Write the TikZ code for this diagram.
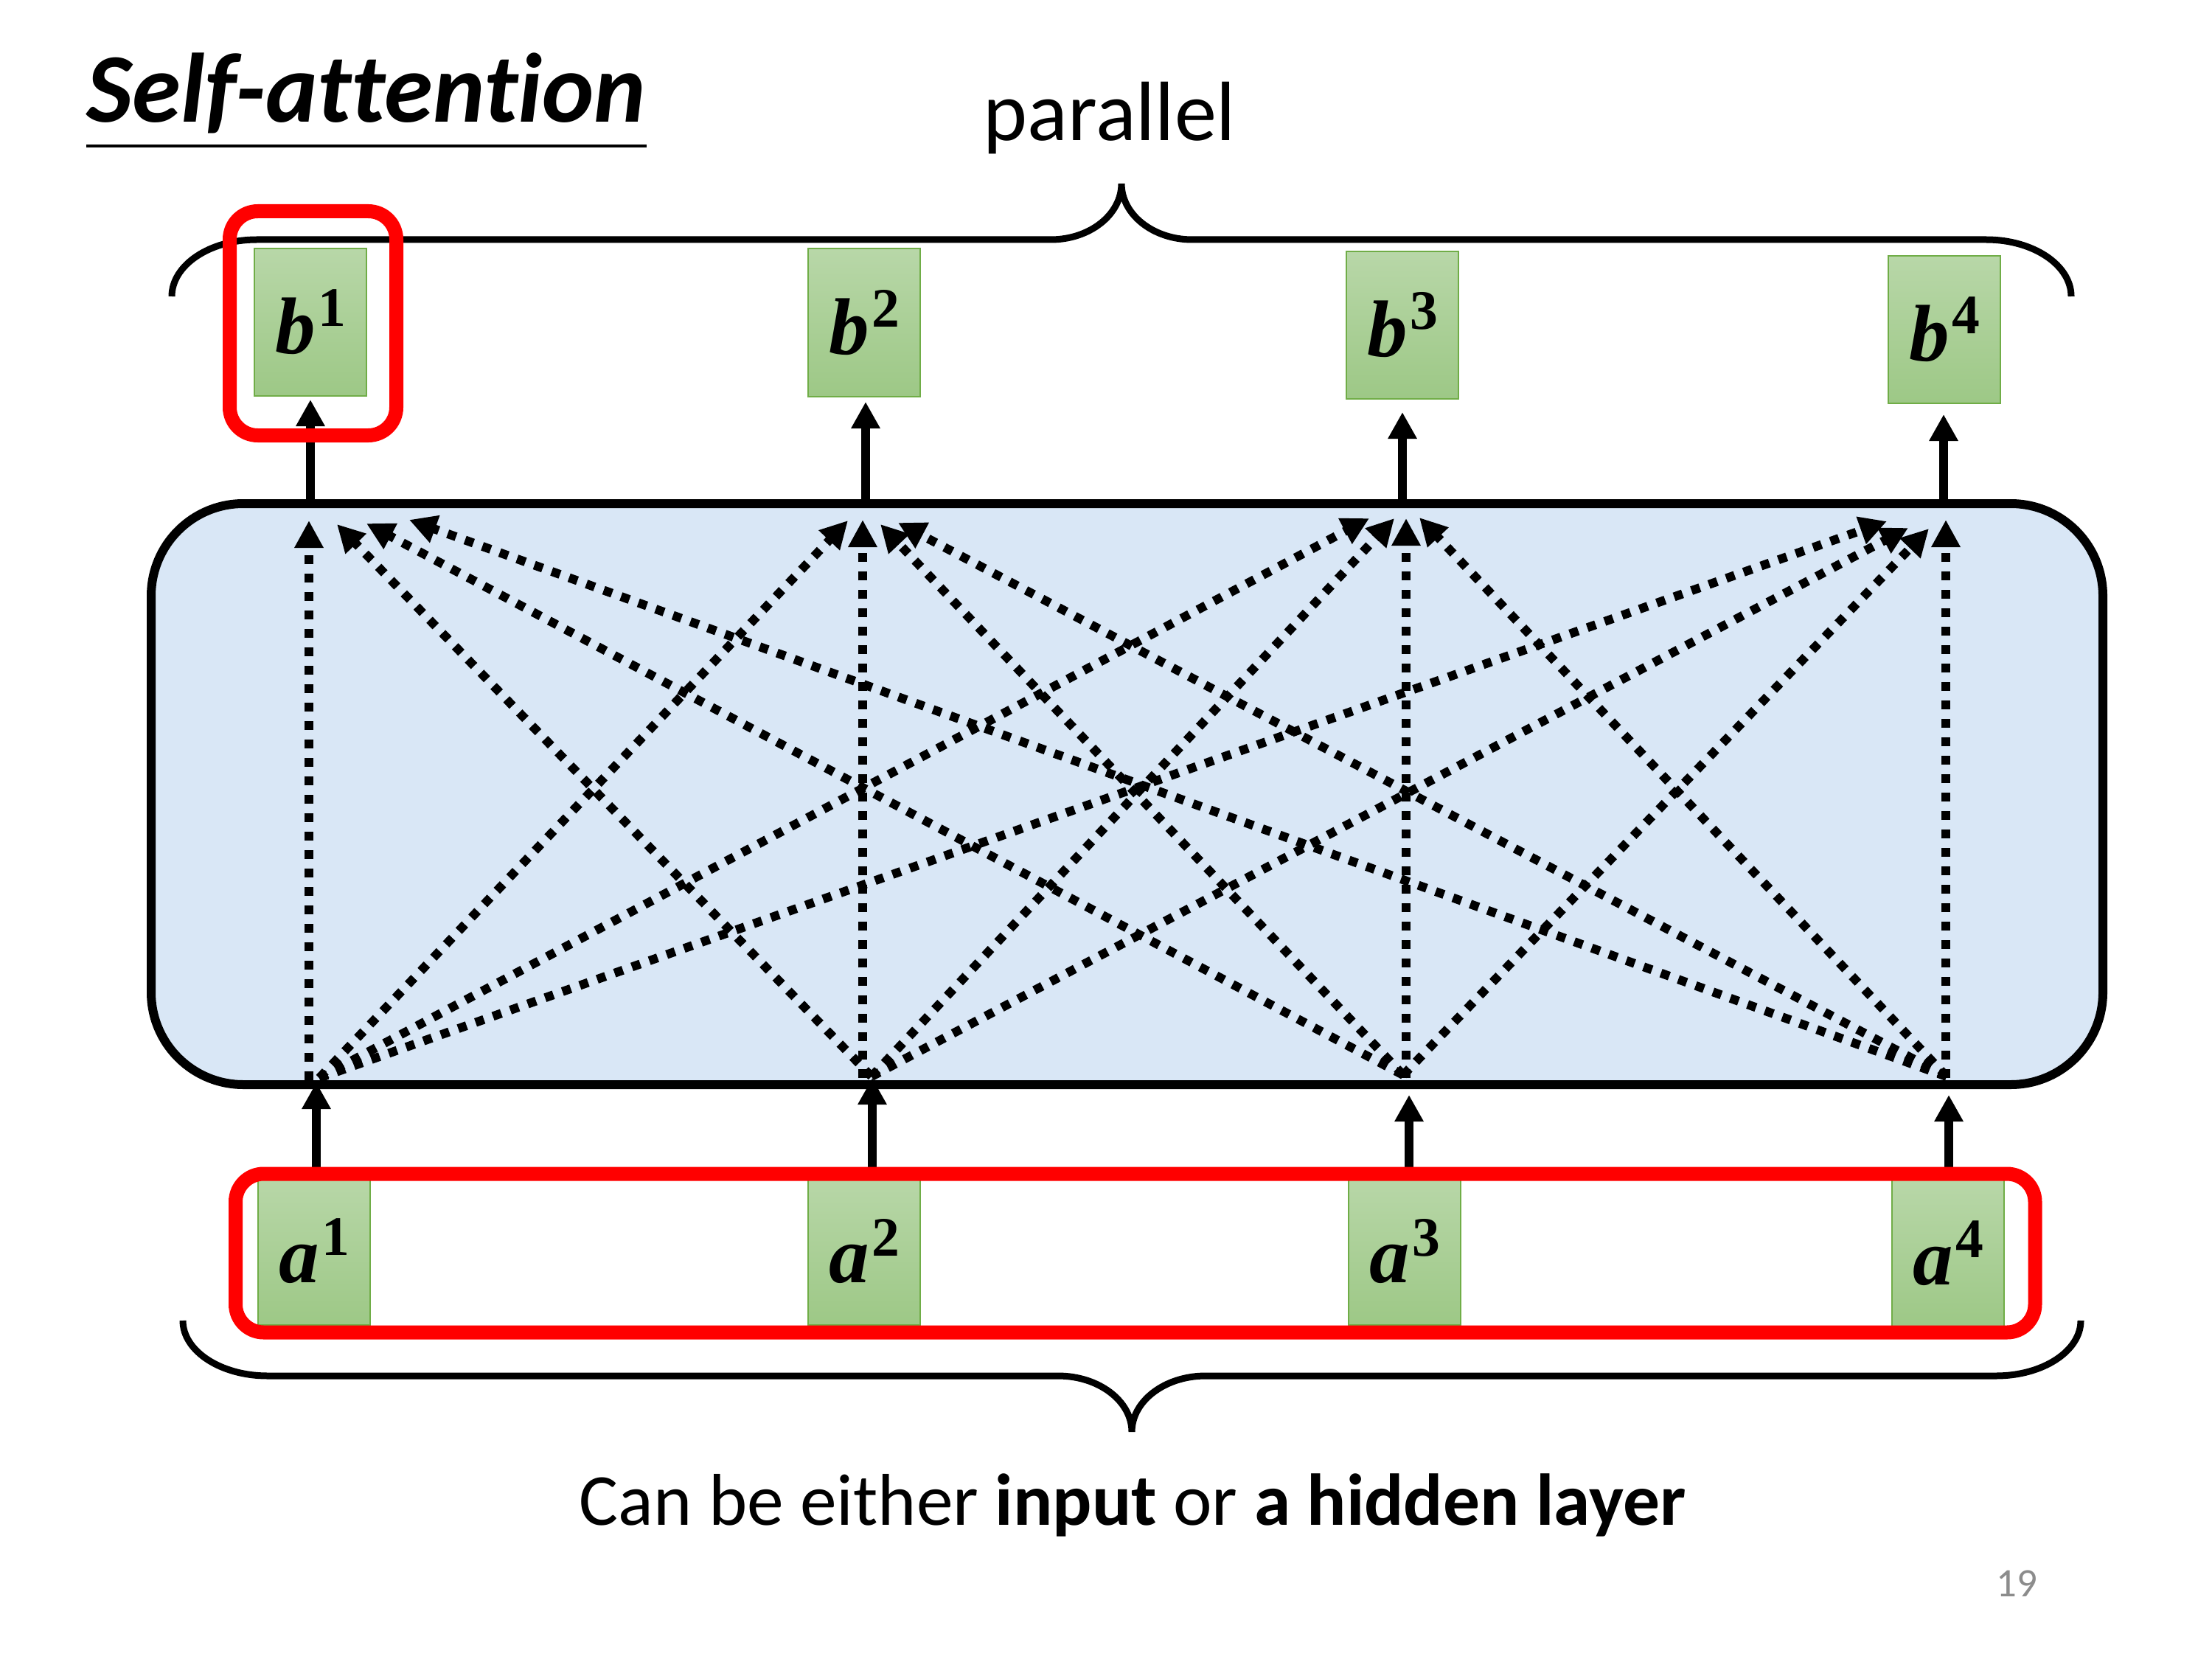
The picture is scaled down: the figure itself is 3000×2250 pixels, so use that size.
\documentclass[tikz,border=0pt]{standalone}
\usepackage{fontspec}
\setmainfont[Ligatures=NoCommon]{Carlito}
\newfontfamily\varfnt{Liberation Serif}
\newcommand\mysym[2]{{\varfnt\fontsize{31}{31}\selectfont\bfseries\itshape #1}\kern1pt\raisebox{10.5pt}{\varfnt\fontsize{21.5}{21.5}\selectfont\bfseries #2}}
\usetikzlibrary{arrows.meta}
\definecolor{attblue}{RGB}{217,231,246}
\definecolor{gtop}{RGB}{184,215,168}
\definecolor{gbot}{RGB}{157,200,134}
\definecolor{gborder}{RGB}{112,173,71}
\definecolor{pagegray}{RGB}{140,140,140}
\tikzset{
  gbox/.style={draw=gborder, line width=0.2mm, top color=gtop, bottom color=gbot,
    minimum width=15.2mm, minimum height=20mm, inner sep=0pt},
  redbox/.style={draw=red, line width=1.9mm, rounded corners=3.8mm, inner sep=0pt},
  attbox/.style={draw=black, fill=attblue, line width=1.2mm, rounded corners=12.5mm,
    minimum width=264.7mm, minimum height=78.8mm, inner sep=0pt},
  bracestyle/.style={line width=0.9mm, line cap=butt},
  dotarrow/.style={line width=1.2mm, dash pattern=on 1.2mm off 1.3mm,
    -{Triangle[length=3.7mm,width=3.7mm]}},
  solidarrow/.style={line width=1.2mm, -{Triangle[length=3.6mm,width=3.7mm]}},
  txt/.style={inner sep=0pt}
}
\begin{document}
\begin{tikzpicture}[x=0.1mm,y=-0.1mm]
\useasboundingbox (0,0) rectangle (3000,2250);
\fill[white] (0,0) rectangle (3000,2250);

% title
\node[txt, anchor=base west, font=\fontsize{38}{40}\selectfont\bfseries\itshape] (title) at (117,166) {Self-attention};
\draw[line width=0.45mm] (117,198) -- (877,198);

% labels
\node[txt, anchor=base, font=\fontsize{32.5}{34}\selectfont] (par) at (1505,191) {parallel};
\node[txt, anchor=base, font=\fontsize{28.3}{30}\selectfont] (cap) at (1536,2068) {Can be either \textbf{input} or \textbf{a hidden layer}};
\node[txt, anchor=base east, font=\fontsize{15.6}{17}\selectfont, text=pagegray] (pg) at (2764,2165) {19};

% braces
\draw[bracestyle] (233,402) .. controls (233,359.5) and (284.5,325) .. (348,325) -- (1425,325)
  .. controls (1478,325) and (1521,291) .. (1521,249)
  .. controls (1521,291) and (1564,325) .. (1617,325) -- (2694,325)
  .. controls (2757.5,325) and (2809,359.5) .. (2809,402);
\draw[bracestyle] (248,1791) .. controls (248,1832.4) and (299.5,1866) .. (363,1866) -- (1435,1866)
  .. controls (1490,1866) and (1535,1900) .. (1535,1942)
  .. controls (1535,1900) and (1580,1866) .. (1635,1866) -- (2707,1866)
  .. controls (2770.5,1866) and (2822,1832.4) .. (2822,1791);

% attention box
\node[attbox] (att) at (1528.5,1077) {};

% sources and targets of dotted arrows
\coordinate (s1v) at (419,1465); \coordinate (s1) at (433,1462);
\coordinate (s2v) at (1170,1462); \coordinate (s2) at (1182,1460);
\coordinate (s3v) at (1907,1462); \coordinate (s3) at (1903,1458);
\coordinate (s4v) at (2639,1462); \coordinate (s4) at (2640,1460);
\coordinate (t1v) at (419,706); \coordinate (t12) at (457,711); \coordinate (t13) at (497,710); \coordinate (t14) at (555,705);
\coordinate (t2v) at (1170,705); \coordinate (t21) at (1150,706); \coordinate (t23) at (1194,711); \coordinate (t24) at (1218,709);
\coordinate (t3v) at (1907,703); \coordinate (t31) at (1857,703); \coordinate (t32) at (1891,703); \coordinate (t34) at (1925,702);
\coordinate (t4v) at (2639,705); \coordinate (t41) at (2559,707); \coordinate (t42) at (2588,716); \coordinate (t43) at (2616,717);

\draw[dotarrow] (s1v) -- (t1v);
\draw[dotarrow] (s2v) -- (t2v);
\draw[dotarrow] (s3v) -- (t3v);
\draw[dotarrow] (s4v) -- (t4v);
\draw[dotarrow] (s1) -- (t21);
\draw[dotarrow] (s1) -- (t31);
\draw[dotarrow] (s1) -- (t41);
\draw[dotarrow] (s2) -- (t12);
\draw[dotarrow] (s2) -- (t32);
\draw[dotarrow] (s2) -- (t42);
\draw[dotarrow] (s3) -- (t13);
\draw[dotarrow] (s3) -- (t23);
\draw[dotarrow] (s3) -- (t43);
\draw[dotarrow] (s4) -- (t14);
\draw[dotarrow] (s4) -- (t24);
\draw[dotarrow] (s4) -- (t34);

% output boxes
\node[gbox] (b1) at (421,437) {\mysym{b}{1}};
\node[gbox] (b2) at (1172,437.5) {\mysym{b}{2}};
\node[gbox] (b3) at (1902,441) {\mysym{b}{3}};
\node[gbox] (b4) at (2637,447) {\mysym{b}{4}};

% input boxes
\node[gbox] (a1) at (426,1697) {\mysym{a}{1}};
\node[gbox] (a2) at (1172,1697) {\mysym{a}{2}};
\node[gbox] (a3) at (1905,1697) {\mysym{a}{3}};
\node[gbox] (a4) at (2642,1700) {\mysym{a}{4}};

% solid arrows to outputs
\coordinate (u1) at (421,542); \coordinate (u2) at (1174,545);
\coordinate (u3) at (1902,559); \coordinate (u4) at (2636,562);
\draw[solidarrow] (att.north -| u1) -- (u1);
\draw[solidarrow] (att.north -| u2) -- (u2);
\draw[solidarrow] (att.north -| u3) -- (u3);
\draw[solidarrow] (att.north -| u4) -- (u4);

% solid arrows from inputs
\coordinate (v1) at (429,1468); \coordinate (v2) at (1183,1462);
\coordinate (v3) at (1911,1485); \coordinate (v4) at (2643,1485);
\draw[solidarrow] (v1 |- a1.north) -- (v1);
\draw[solidarrow] (v2 |- a2.north) -- (v2);
\draw[solidarrow] (v3 |- a3.north) -- (v3);
\draw[solidarrow] (v4 |- a4.north) -- (v4);

% red highlight boxes
\node[redbox, minimum width=22.6mm, minimum height=30.4mm] (selb) at (424.5,438.5) {};
\node[redbox, minimum width=244.05mm, minimum height=21.5mm] (sela) at (1539.75,1699.5) {};
\end{tikzpicture}
\end{document}
